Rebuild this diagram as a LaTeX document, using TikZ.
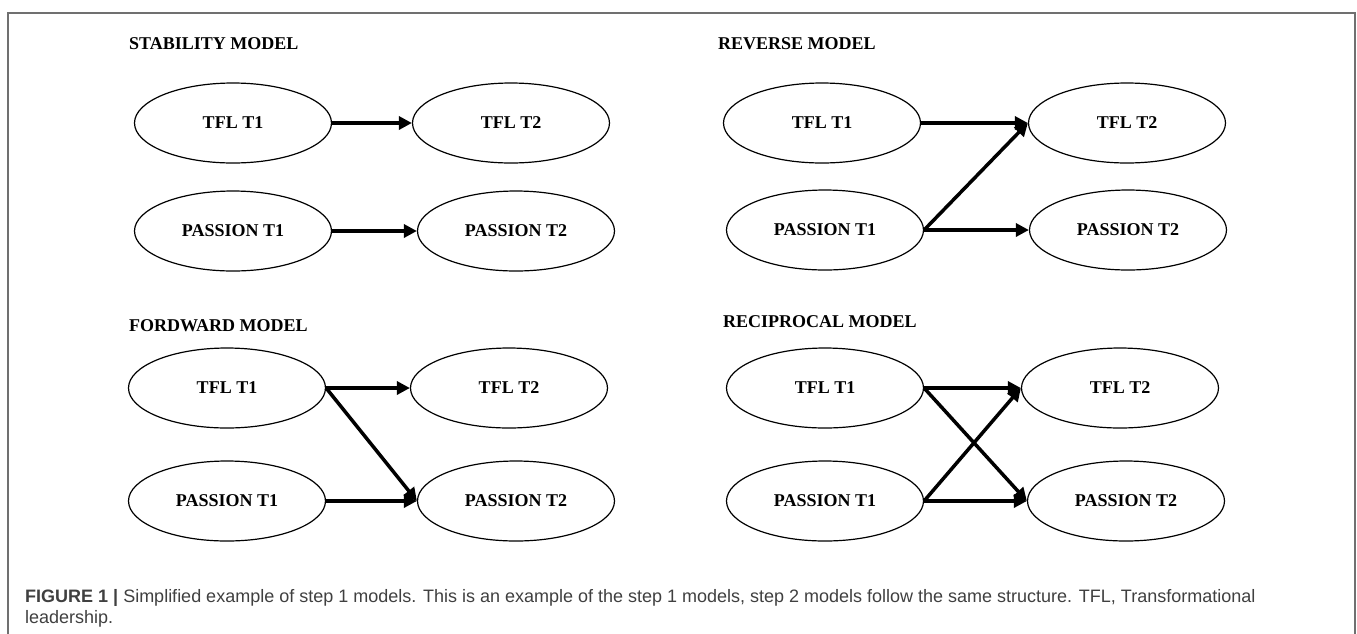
\documentclass[tikz,border=0pt]{standalone}
\usepackage{fontspec}
\setmainfont{Liberation Serif}
\setsansfont{Liberation Sans}
\usetikzlibrary{shapes,arrows.meta,positioning}

\definecolor{framegray}{RGB}{112,112,112}
\definecolor{capgray}{RGB}{64,64,64}

\tikzset{
  latent/.style = {ellipse, draw, line width=1.2pt, minimum width=197pt,
    minimum height=80pt, inner sep=0pt,
    font=\bfseries\fontsize{18}{20}\selectfont},
  modeltitle/.style = {anchor=base west, inner sep=0pt,
    font=\bfseries\fontsize{18}{20}\selectfont},
  path/.style = {line width=3.5pt, -{Triangle[length=13pt,width=13pt]}}
}

\begin{document}
\begin{tikzpicture}[x=1pt, y=-1pt]
\useasboundingbox[fill=white] (0,0) rectangle (1357,633);
\clip (0,0) rectangle (1357,633);
\draw[framegray, line width=2pt] (8,650) -- (8,13) -- (1355,13) -- (1355,650);

% stability
\node[modeltitle] (st-title) at (129,49) {STABILITY MODEL};
\node[latent] (st-tfl1) at (233,123) {TFL T1};
\node[latent] (st-tfl2) at (511,123) {TFL T2};
\node[latent] (st-pas1) at (233,231) {PASSION T1};
\node[latent] (st-pas2) at (516,231) {PASSION T2};
\draw[path] (st-tfl1.east) -- (st-tfl2.west);
\draw[path] (st-pas1.east) -- (st-pas2.west);

% reverse
\node[modeltitle] (re-title) at (718,49) {REVERSE MODEL};
\node[latent] (re-tfl1) at (822,123) {TFL T1};
\node[latent] (re-tfl2) at (1127,123) {TFL T2};
\node[latent] (re-pas1) at (825,230) {PASSION T1};
\node[latent] (re-pas2) at (1128,230) {PASSION T2};
\draw[path] (re-tfl1.east) -- (re-tfl2.west);
\draw[path] (re-pas1.east) -- (re-tfl2.west);
\draw[path] (re-pas1.east) -- (re-pas2.west);

% forward
\node[modeltitle] (fw-title) at (129,331) {FORDWARD MODEL};
\node[latent] (fw-tfl1) at (227,388) {TFL T1};
\node[latent] (fw-tfl2) at (509,388) {TFL T2};
\node[latent] (fw-pas1) at (227,501) {PASSION T1};
\node[latent] (fw-pas2) at (516,501) {PASSION T2};
\draw[path] (fw-tfl1.east) -- (fw-tfl2.west);
\draw[path] (fw-tfl1.east) -- (fw-pas2.west);
\draw[path] (fw-pas1.east) -- (fw-pas2.west);

% reciprocal
\node[modeltitle] (rc-title) at (723,327) {RECIPROCAL MODEL};
\node[latent] (rc-tfl1) at (825,388) {TFL T1};
\node[latent] (rc-tfl2) at (1120,388) {TFL T2};
\node[latent] (rc-pas1) at (825,501) {PASSION T1};
\node[latent] (rc-pas2) at (1126,501) {PASSION T2};
\draw[path] (rc-tfl1.east) -- (rc-tfl2.west);
\draw[path] (rc-tfl1.east) -- (rc-pas2.west);
\draw[path] (rc-pas1.east) -- (rc-tfl2.west);
\draw[path] (rc-pas1.east) -- (rc-pas2.west);

\node[anchor=north west, align=left, inner sep=0pt, text=capgray,
  font=\sffamily\fontsize{18}{21}\selectfont] (caption) at (25,589)
  {\textbf{FIGURE 1 |} Simplified example of step 1 models. This is an example of the step 1 models, step 2 models follow the same structure. TFL, Transformational\\
   leadership.};
\end{tikzpicture}
\end{document}
